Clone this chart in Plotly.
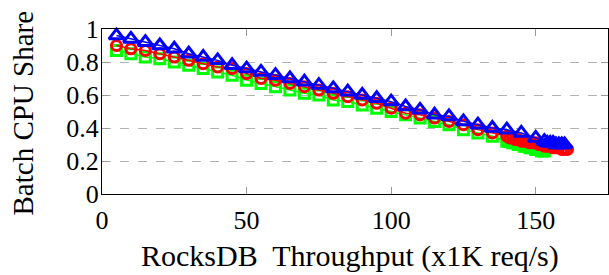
import plotly.graph_objects as go

# ---- data ----
blue_x = [5, 10, 15, 20, 25, 30, 35, 40, 45, 50, 55, 60, 65, 70, 75, 80, 85, 90, 95, 100,
          105, 110, 115, 120, 125, 130, 135, 140, 145, 150,
          153, 154, 155, 156, 157, 158, 159, 160]
blue_y = [0.96, 0.94, 0.92, 0.90, 0.88, 0.85, 0.83, 0.81, 0.78, 0.76, 0.74, 0.72, 0.70, 0.68,
          0.66, 0.64, 0.62, 0.60, 0.58, 0.56, 0.53, 0.51, 0.48, 0.47, 0.44, 0.42, 0.40, 0.39,
          0.37, 0.34, 0.32, 0.31, 0.31, 0.31, 0.30, 0.30, 0.30, 0.30]

red_x = [5, 10, 15, 20, 25, 30, 35, 40, 45, 50, 55, 60, 65, 70, 75, 80, 85, 90, 95, 100,
         105, 110, 115, 120, 125, 130, 135, 140,
         141, 142, 143, 144, 145, 146, 147, 148, 149, 150, 151, 152, 153, 154, 155, 156,
         157, 158, 159, 160, 161]
red_y = [0.90, 0.88, 0.87, 0.85, 0.83, 0.81, 0.79, 0.77, 0.76, 0.73, 0.70, 0.69, 0.67, 0.65,
         0.63, 0.61, 0.59, 0.57, 0.55, 0.52, 0.49, 0.48, 0.46, 0.44, 0.42, 0.39, 0.37, 0.35,
         0.34, 0.34, 0.33, 0.33, 0.32, 0.32, 0.32, 0.31, 0.31, 0.31, 0.30, 0.30, 0.29, 0.29,
         0.29, 0.28, 0.28, 0.28, 0.27, 0.27, 0.27]

green_x = [5, 10, 15, 20, 25, 30, 35, 40, 45, 50, 55, 60, 65, 70, 75, 80, 85, 90, 95, 100,
           105, 110, 115, 120, 125, 130, 135, 140,
           141, 142, 143, 144, 145, 146, 147, 148, 149, 150, 151, 152, 153]
green_y = [0.87, 0.85, 0.83, 0.82, 0.80, 0.78, 0.76, 0.74, 0.72, 0.69, 0.67, 0.65, 0.63, 0.61,
           0.60, 0.57, 0.56, 0.54, 0.52, 0.50, 0.48, 0.46, 0.44, 0.42, 0.39, 0.37, 0.35, 0.32,
           0.32, 0.31, 0.31, 0.30, 0.30, 0.29, 0.29, 0.28, 0.28, 0.27, 0.27, 0.26, 0.26]

x_ticks = [0, 50, 100, 150]
y_ticks = [0, 0.2, 0.4, 0.6, 0.8, 1]
y_tick_text = ["0", "0.2", "0.4", "0.6", "0.8", "1"]

x_title = "RocksDB\u00a0 Throughput (x1K req/s)"
y_title = "Batch CPU Share"

FONT = "Liberation Serif"

fig = go.Figure()
series = [
    (green_x, green_y, "#00ff00", "square-open", 10),
    (red_x, red_y, "#ff0000", "circle-open", 10),
    (blue_x, blue_y, "#0000ff", "triangle-up-open", 13),
]
for xs, ys, col, sym, sz in series:
    fig.add_trace(go.Scatter(
        x=xs, y=ys, mode="lines+markers",
        line=dict(color=col, width=1.5),
        marker=dict(symbol=sym, size=sz, color=col, line=dict(color=col, width=3)),
        cliponaxis=False, showlegend=False,
    ))

fig.update_layout(
    width=609, height=275,
    margin=dict(l=102, r=1, t=29, b=81),
    paper_bgcolor="white", plot_bgcolor="white",
    font=dict(family=FONT, size=26, color="black"),
    xaxis=dict(
        range=[0, 175], tickvals=x_ticks, showgrid=False, zeroline=False,
        showline=True, linecolor="black", linewidth=1, mirror="ticks",
        ticks="inside", ticklen=7, tickcolor="#999999", tickwidth=1,
        tickfont=dict(family=FONT, size=26), automargin=False, ticklabelstandoff=3,
    ),
    yaxis=dict(
        range=[0, 1], tickvals=y_ticks, ticktext=y_tick_text,
        showgrid=True, gridcolor="#b3b3b3", griddash="dash", gridwidth=1,
        zeroline=False, showline=True, linecolor="black", linewidth=1, mirror="ticks",
        ticks="inside", ticklen=7, tickcolor="#999999", tickwidth=1,
        tickfont=dict(family=FONT, size=26), automargin=False, ticklabelstandoff=-3,
    ),
    annotations=[
        dict(text=x_title, xref="paper", yref="paper", x=0.5, y=0, xanchor="center",
             yanchor="middle", xshift=-5, yshift=-62, showarrow=False,
             font=dict(family=FONT, size=30)),
        dict(text=y_title, xref="paper", yref="paper", x=0, y=0.5, xanchor="center",
             yanchor="middle", xshift=-80, yshift=-2, textangle=-90, showarrow=False,
             font=dict(family=FONT, size=29)),
    ],
)

fig.write_html("out.html", config={"displayModeBar": False},
               post_script="document.body.style.margin='0';")
